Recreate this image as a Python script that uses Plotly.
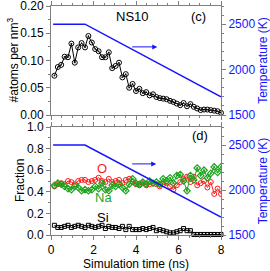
import plotly.graph_objects as go

# ---- data ----
time_ns = [round(0.16 * k, 2) for k in range(1, 51)]
atoms_per_nm3 = [0.072, 0.088, 0.092, 0.107, 0.106, 0.131, 0.096, 0.124, 0.132, 0.124,
                 0.145, 0.133, 0.121, 0.117, 0.106, 0.106, 0.115, 0.086, 0.090, 0.096,
                 0.069, 0.075, 0.050, 0.057, 0.044, 0.048, 0.040, 0.042, 0.036, 0.038,
                 0.033, 0.031, 0.030, 0.029, 0.026, 0.024, 0.021, 0.018, 0.022, 0.016,
                 0.020, 0.015, 0.012, 0.009, 0.010, 0.010, 0.009, 0.008, 0.007, 0.004]
frac_O = [0.45, 0.47, 0.48, 0.47, 0.50, 0.49, 0.47, 0.50, 0.51, 0.51,
          0.49, 0.50, 0.51, 0.53, 0.50, 0.49, 0.52, 0.49, 0.50, 0.51,
          0.48, 0.51, 0.52, 0.49, 0.47, 0.46, 0.48, 0.46, 0.47, 0.48,
          0.47, 0.45, 0.47, 0.48, 0.45, 0.42, 0.46, 0.49, 0.52, 0.54,
          0.49, 0.54, 0.46, 0.48, 0.50, 0.44, 0.49, 0.38, 0.43, 0.38]
frac_Na = [0.46, 0.48, 0.47, 0.45, 0.43, 0.42, 0.45, 0.44, 0.41, 0.42,
           0.41, 0.42, 0.45, 0.43, 0.48, 0.42, 0.41, 0.46, 0.45, 0.47,
           0.44, 0.41, 0.47, 0.52, 0.48, 0.47, 0.49, 0.47, 0.50, 0.48,
           0.49, 0.47, 0.52, 0.50, 0.53, 0.48, 0.55, 0.56, 0.50, 0.41,
           0.55, 0.51, 0.62, 0.55, 0.60, 0.53, 0.57, 0.63, 0.58, 0.63]
frac_Si = [0.09, 0.07, 0.07, 0.08, 0.09, 0.07, 0.08, 0.09, 0.08, 0.07,
           0.09, 0.08, 0.07, 0.08, 0.09, 0.06, 0.08, 0.07, 0.07, 0.06,
           0.08, 0.05, 0.08, 0.05, 0.05, 0.05, 0.06, 0.05, 0.06, 0.07,
           0.04, 0.05, 0.04, 0.03, 0.02, 0.02, 0.03, 0.04, 0.06, 0.04,
           0.04, 0.005, 0.005, 0.005, 0.005, 0.005, 0.005, 0.005, 0.005, 0.005]
temp_time = [0.1, 1.6, 8.0]
temp_K = [2500, 2500, 1700]

BLUE = "#1414ff"
RED = "#ff1a1a"
GREEN = "#1fa31f"
FRAME = "#7f7f7f"
FONT = "Liberation Sans, Arial, sans-serif"

fig = go.Figure()
# top panel
fig.add_trace(go.Scatter(x=time_ns, y=atoms_per_nm3, mode="lines+markers",
                         line=dict(color="black", width=1),
                         marker=dict(symbol="circle-open-dot", size=5, color="black", line=dict(width=1)),
                         xaxis="x", yaxis="y", cliponaxis=False))
fig.add_trace(go.Scatter(x=temp_time, y=temp_K, mode="lines", line=dict(color=BLUE, width=1.5),
                         xaxis="x", yaxis="y2"))
# bottom panel
fig.add_trace(go.Scatter(x=time_ns, y=frac_O, mode="lines+markers",
                         line=dict(color=RED, width=1),
                         marker=dict(symbol="circle-open", size=5, color=RED, line=dict(width=1)),
                         xaxis="x2", yaxis="y3"))
fig.add_trace(go.Scatter(x=time_ns, y=frac_Na, mode="lines+markers",
                         line=dict(color=GREEN, width=1),
                         marker=dict(symbol="diamond-open-dot", size=5, color=GREEN, line=dict(width=1.2)),
                         xaxis="x2", yaxis="y3"))
fig.add_trace(go.Scatter(x=time_ns, y=frac_Si, mode="lines+markers",
                         line=dict(color="black", width=1),
                         marker=dict(symbol="square-open", size=4, color="black", line=dict(width=1)),
                         xaxis="x2", yaxis="y3", cliponaxis=False))
fig.add_trace(go.Scatter(x=temp_time, y=temp_K, mode="lines", line=dict(color=BLUE, width=1.5),
                         xaxis="x2", yaxis="y4"))

tickfont = dict(family=FONT, size=12, color="black")
bluefont = dict(family=FONT, size=12, color=BLUE)
common = dict(showline=True, linecolor=FRAME, linewidth=1, ticks="outside", ticklen=4,
              tickcolor=FRAME, showgrid=False, zeroline=False, automargin=False,
              ticklabeloverflow="allow")

xcommon = dict(common, range=[0, 8], tickvals=[0, 2, 4, 6, 8], mirror="ticks",
               minor=dict(dtick=0.5, ticks="outside", ticklen=2, tickcolor=FRAME))

top_dom = [0.524, 1.0]
bot_dom = [0.0, 0.4716]

fig.update_layout(
    width=270, height=271,
    margin=dict(l=51, r=49, t=6, b=36),
    paper_bgcolor="white", plot_bgcolor="white",
    showlegend=False,
    font=dict(family=FONT, size=12, color="black"),
    xaxis=dict(xcommon, anchor="y", domain=[0, 1], showticklabels=False),
    yaxis=dict(common, domain=top_dom, anchor="x", range=[0, 0.2],
               tickvals=[0, 0.05, 0.1, 0.15, 0.2], ticktext=["0.00", "0.05", "0.10", "0.15", "0.20"],
               tickfont=tickfont,
               minor=dict(dtick=0.025, ticks="outside", ticklen=2, tickcolor=FRAME)),
    yaxis2=dict(common, overlaying="y", side="right", anchor="x", range=[1500, 2700],
                tickvals=[1500, 2000, 2500], tickfont=bluefont,
                minor=dict(dtick=100, ticks="outside", ticklen=2, tickcolor=FRAME),
                title=dict(text="Temperature (K)", font=bluefont)),
    xaxis2=dict(xcommon, anchor="y3", domain=[0, 1], tickfont=tickfont,
                title=dict(text="Simulation time (ns)", font=tickfont)),
    yaxis3=dict(common, domain=bot_dom, anchor="x2", range=[0, 1.0],
                tickvals=[0, 0.2, 0.4, 0.6, 0.8, 1.0], ticktext=["0.0", "0.2", "0.4", "0.6", "0.8", "1.0"],
                tickfont=tickfont,
                minor=dict(dtick=0.1, ticks="outside", ticklen=2, tickcolor=FRAME)),
    yaxis4=dict(common, overlaying="y3", side="right", anchor="x2", range=[1500, 2700],
                tickvals=[1500, 2000, 2500], tickfont=bluefont,
                minor=dict(dtick=100, ticks="outside", ticklen=2, tickcolor=FRAME),
                title=dict(text="Temperature (K)", font=bluefont)),
)

# left axis titles placed as rotated text
fig.add_annotation(x=0, y=0.1, xref="paper", yref="y", text="#atoms per nm<sup>3</sup>",
                   textangle=-90, showarrow=False, font=tickfont, xanchor="center", xshift=-39)
fig.add_annotation(x=0, y=0.5, xref="paper", yref="y3", text="Fraction",
                   textangle=-90, showarrow=False, font=tickfont, xanchor="center", xshift=-31)

ann_font = dict(family=FONT, size=13, color="black")
fig.add_annotation(x=3.85, y=2700, xref="x", yref="y2", text="NS10", showarrow=False,
                   font=ann_font, yanchor="top", yshift=-1)
fig.add_annotation(x=6.95, y=2700, xref="x", yref="y2", text="(c)", showarrow=False,
                   font=ann_font, yanchor="top", yshift=-1)
fig.add_annotation(x=7.0, y=2700, xref="x2", yref="y4", text="(d)", showarrow=False,
                   font=ann_font, yanchor="top", yshift=1)
fig.add_annotation(x=2.4, y=0.62, xref="x2", yref="y3", text="O", showarrow=False,
                   font=dict(family=FONT, size=13, color=RED))
fig.add_annotation(x=2.45, y=0.35, xref="x2", yref="y3", text="Na", showarrow=False,
                   font=dict(family=FONT, size=13, color=GREEN))
fig.add_annotation(x=2.45, y=0.165, xref="x2", yref="y3", text="Si", showarrow=False,
                   font=dict(family=FONT, size=13, color="black"))
# arrows pointing to the right-hand temperature axis
fig.add_annotation(x=5.0, y=2250, ax=3.75, ay=2250, xref="x", yref="y2", axref="x", ayref="y2",
                   text="", showarrow=True, arrowhead=2, arrowsize=1, arrowwidth=1, arrowcolor=BLUE)
fig.add_annotation(x=4.95, y=2290, ax=3.75, ay=2290, xref="x2", yref="y4", axref="x2", ayref="y4",
                   text="", showarrow=True, arrowhead=2, arrowsize=1, arrowwidth=1, arrowcolor=BLUE)

fig.write_html("out.html", config={"displayModeBar": False},
               post_script="document.body.style.margin='0';document.body.style.overflow='hidden';")
